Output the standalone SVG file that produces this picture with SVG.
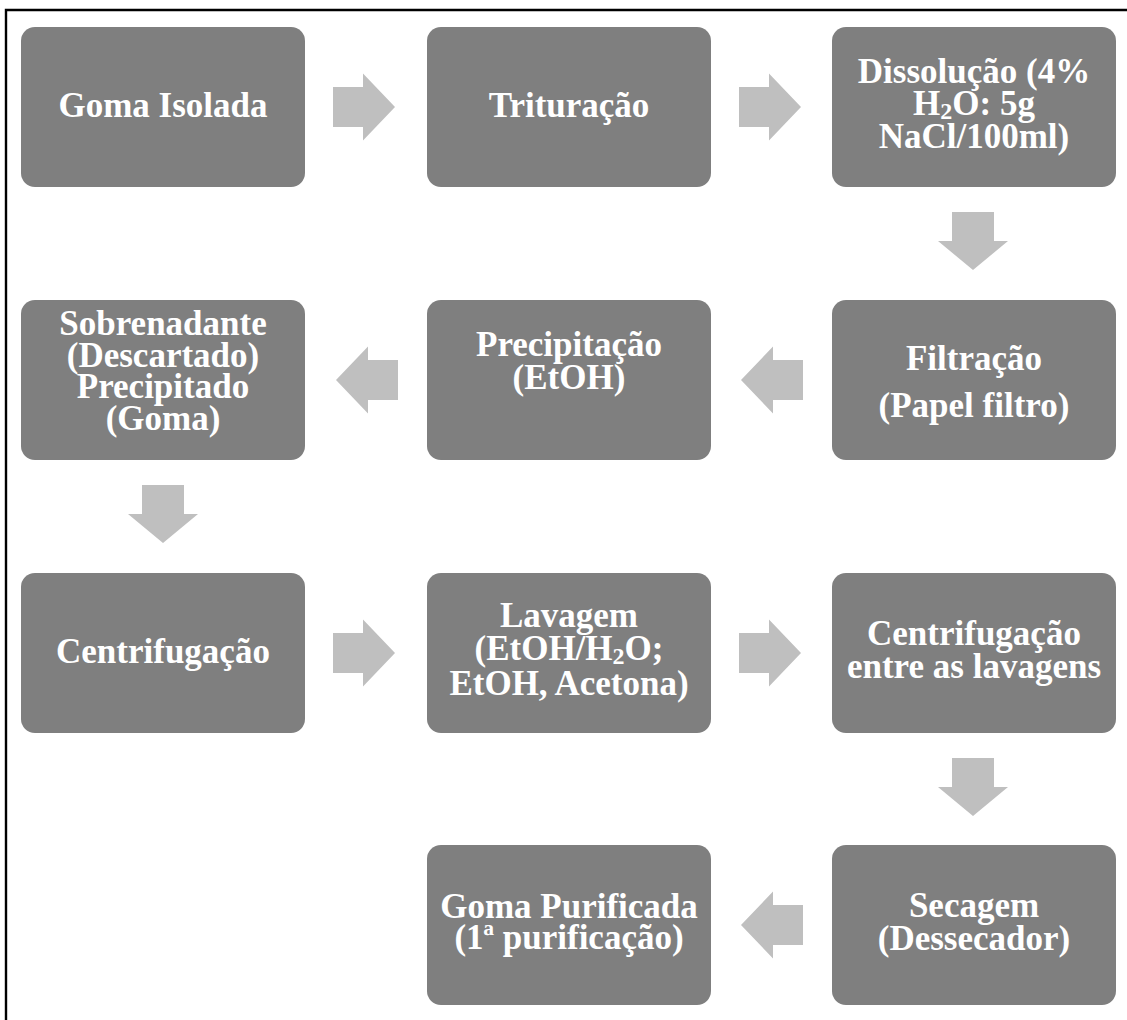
<svg xmlns="http://www.w3.org/2000/svg" width="1127" height="1020" viewBox="0 0 1127 1020">
<defs>
<style>
.box{fill:#7f7f7f;}
.t{font-family:"Liberation Serif","Times New Roman",serif;font-weight:bold;font-size:35px;fill:#ffffff;text-anchor:middle;}
.sub{font-size:24px;}
.arr{fill:#bfbfbf;}
</style>
<path id="ar" d="M0,-20 H30 V-33.5 L62,0 L30,33.5 V20 H0 Z"/>
<path id="ad" d="M-21,0 H21 V29 H35 L0,58 L-35,29 H-21 Z"/>
</defs>
<rect x="0" y="0" width="1127" height="1020" fill="#ffffff"/>
<path d="M6,1020 V10 H1127" fill="none" stroke="#000000" stroke-width="2.4"/>

<g id="connectors">
<use href="#ar" class="arr" x="333" y="107"/>
<use href="#ar" class="arr" x="739" y="107"/>
<use href="#ad" class="arr" x="973" y="212"/>
<use href="#ar" class="arr" transform="translate(803,380) scale(-1,1)"/>
<use href="#ar" class="arr" transform="translate(398,380) scale(-1,1)"/>
<use href="#ad" class="arr" x="163" y="485"/>
<use href="#ar" class="arr" x="333" y="653"/>
<use href="#ar" class="arr" x="739" y="653"/>
<use href="#ad" class="arr" x="973" y="758"/>
<use href="#ar" class="arr" transform="translate(803,925) scale(-1,1)"/>
</g>

<g id="n1"><rect class="box" x="21" y="27" width="284" height="160" rx="14"/>
<text class="t" x="163" y="117">Goma Isolada</text></g>
<g id="n2"><rect class="box" x="427" y="27" width="284" height="160" rx="14"/>
<text class="t" x="569" y="117">Trituração</text></g>
<g id="n3"><rect class="box" x="832" y="27" width="284" height="160" rx="14"/>
<text class="t"><tspan x="974" y="83">Dissolução (4%</tspan><tspan x="974" y="115">H</tspan><tspan class="sub" dy="4">2</tspan><tspan dy="-4">O: 5g</tspan><tspan x="974" y="148">NaCl/100ml)</tspan></text></g>

<g id="n4"><rect class="box" x="832" y="300" width="284" height="160" rx="14"/>
<text class="t"><tspan x="974" y="370">Filtração</tspan><tspan x="974" y="417">(Papel filtro)</tspan></text></g>
<g id="n5"><rect class="box" x="427" y="300" width="284" height="160" rx="14"/>
<text class="t"><tspan x="569" y="356">Precipitação</tspan><tspan x="569" y="389">(EtOH)</tspan></text></g>
<g id="n6"><rect class="box" x="21" y="300" width="284" height="160" rx="14"/>
<text class="t"><tspan x="163" y="335">Sobrenadante</tspan><tspan x="163" y="367">(Descartado)</tspan><tspan x="163" y="398">Precipitado</tspan><tspan x="163" y="430">(Goma)</tspan></text></g>

<g id="n7"><rect class="box" x="21" y="573" width="284" height="160" rx="14"/>
<text class="t" x="163" y="663">Centrifugação</text></g>
<g id="n8"><rect class="box" x="427" y="573" width="284" height="160" rx="14"/>
<text class="t"><tspan x="569" y="627">Lavagem</tspan><tspan x="569" y="660">(EtOH/H</tspan><tspan class="sub" dy="4">2</tspan><tspan dy="-4">O;</tspan><tspan x="569" y="695">EtOH, Acetona)</tspan></text></g>
<g id="n9"><rect class="box" x="832" y="573" width="284" height="160" rx="14"/>
<text class="t"><tspan x="974" y="645">Centrifugação</tspan><tspan x="974" y="678">entre as lavagens</tspan></text></g>

<g id="n10"><rect class="box" x="832" y="845" width="284" height="160" rx="14"/>
<text class="t"><tspan x="974" y="917">Secagem</tspan><tspan x="974" y="950">(Dessecador)</tspan></text></g>
<g id="n11"><rect class="box" x="427" y="845" width="284" height="160" rx="14"/>
<text class="t"><tspan x="569" y="918">Goma Purificada</tspan><tspan x="569" y="949">(1ª purificação)</tspan></text></g>
</svg>
